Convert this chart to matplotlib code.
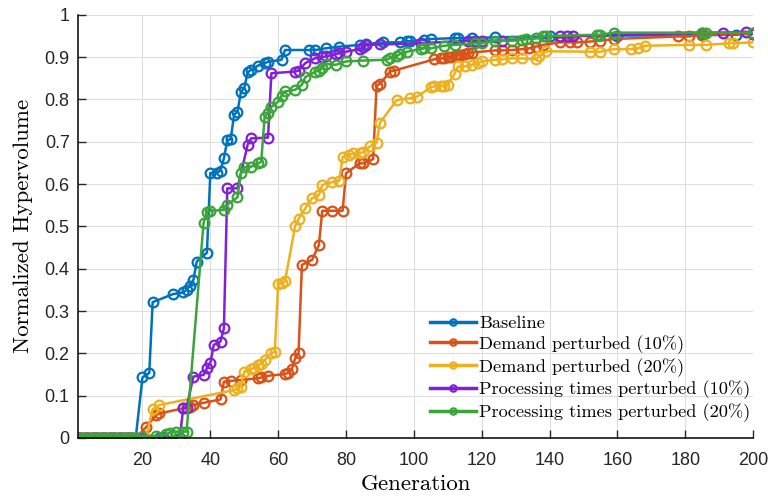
import matplotlib
matplotlib.use("Agg")
import matplotlib.pyplot as plt

# generation / normalized hypervolume
base_gen = [1, 2, 3, 4, 5, 6, 7, 8, 9, 10, 11, 12, 13, 14, 15, 16, 17, 18, 20, 22, 23, 29, 32, 33, 34, 35, 36, 39,
            40, 42, 43, 44, 45, 46, 47, 48, 49, 50, 51, 52, 54, 56, 57, 61, 62, 69, 71, 74, 78, 84, 86, 91, 96, 98,
            99, 103, 105, 112, 113, 117, 124, 140, 160, 185, 195, 200]
base_hv = [0, 0, 0, 0, 0, 0, 0, 0, 0, 0, 0, 0, 0, 0, 0, 0, 0, 0, 0.143, 0.154, 0.321, 0.34, 0.344, 0.35, 0.36, 0.373,
           0.417, 0.438, 0.626, 0.627, 0.632, 0.661, 0.704, 0.706, 0.764, 0.771, 0.817, 0.827, 0.864, 0.870, 0.880,
           0.886, 0.889, 0.894, 0.917, 0.917, 0.917, 0.921, 0.925, 0.929, 0.931, 0.935, 0.935, 0.938, 0.938, 0.941,
           0.943, 0.945, 0.945, 0.945, 0.947, 0.949, 0.951, 0.952, 0.953, 0.957]

dem10_gen = [1, 2, 3, 4, 5, 6, 7, 8, 9, 10, 11, 12, 13, 14, 15, 16, 17, 18, 21, 24, 25, 32, 34, 35, 38, 43, 44, 46,
             49, 54, 55, 57, 62, 63, 64, 65, 66, 67, 70, 72, 73, 76, 79, 80, 84, 85, 88, 89, 90, 93, 94, 106, 108,
             109, 110, 111, 112, 113, 114, 115, 116, 117, 124, 126, 129, 132, 134, 136, 138, 143, 146, 148, 152, 155,
             159, 178, 181, 185, 200]
dem10_hv = [0, 0, 0, 0, 0, 0, 0, 0, 0, 0, 0, 0, 0, 0, 0, 0, 0, 0, 0.025, 0.054, 0.058, 0.07, 0.074, 0.078, 0.083,
            0.091, 0.133, 0.135, 0.137, 0.141, 0.143, 0.147, 0.151, 0.154, 0.162, 0.188, 0.2, 0.409, 0.421, 0.456,
            0.537, 0.537, 0.537, 0.626, 0.649, 0.649, 0.659, 0.832, 0.837, 0.866, 0.868, 0.895, 0.897, 0.897, 0.9,
            0.901, 0.902, 0.904, 0.906, 0.908, 0.909, 0.911, 0.916, 0.916, 0.917, 0.919, 0.921, 0.925, 0.929, 0.935,
            0.935, 0.935, 0.937, 0.939, 0.943, 0.949, 0.949, 0.953, 0.955]

dem20_gen = [1, 2, 3, 4, 5, 6, 7, 8, 9, 10, 11, 12, 13, 14, 15, 16, 17, 18, 21, 23, 25, 47, 48, 49, 50, 52, 53, 54,
             55, 56, 58, 59, 60, 61, 62, 65, 66, 68, 70, 72, 73, 76, 78, 79, 81, 82, 84, 85, 87, 89, 90, 95, 99, 101,
             105, 106, 108, 109, 110, 112, 113, 115, 117, 119, 120, 124, 126, 129, 132, 136, 137, 139, 152, 155, 159,
             164, 166, 168, 181, 186, 193, 194, 200]
dem20_hv = [0, 0, 0, 0, 0, 0, 0, 0, 0, 0, 0, 0, 0, 0, 0, 0, 0, 0, 0, 0.068, 0.078, 0.113, 0.117, 0.121, 0.157, 0.162,
            0.166, 0.172, 0.176, 0.184, 0.2, 0.204, 0.364, 0.367, 0.37, 0.501, 0.518, 0.543, 0.567, 0.574, 0.598,
            0.605, 0.608, 0.664, 0.669, 0.673, 0.674, 0.675, 0.689, 0.698, 0.745, 0.799, 0.803, 0.807, 0.829, 0.831,
            0.832, 0.832, 0.835, 0.861, 0.878, 0.878, 0.882, 0.886, 0.89, 0.894, 0.895, 0.897, 0.897, 0.895, 0.902,
            0.914, 0.913, 0.913, 0.919, 0.919, 0.921, 0.927, 0.929, 0.929, 0.933, 0.933, 0.935]

proc10_gen = [1, 2, 3, 4, 5, 6, 7, 8, 9, 10, 11, 12, 13, 14, 15, 16, 17, 18, 20, 25, 26, 31, 32, 33, 35, 38, 39, 40,
              41, 43, 44, 45, 48, 51, 52, 57, 58, 65, 66, 68, 71, 73, 74, 77, 78, 80, 84, 85, 86, 90, 102, 116, 118,
              120, 126, 143, 145, 147, 185, 191, 198, 200]
proc10_hv = [0, 0, 0, 0, 0, 0, 0, 0, 0, 0, 0, 0, 0, 0, 0, 0, 0, 0, 0, 0, 0.002, 0, 0.07, 0.072, 0.145, 0.149, 0.165,
             0.177, 0.22, 0.228, 0.259, 0.59, 0.59, 0.693, 0.708, 0.71, 0.862, 0.866, 0.868, 0.886, 0.898, 0.9, 0.902,
             0.907, 0.909, 0.913, 0.919, 0.924, 0.929, 0.93, 0.933, 0.939, 0.939, 0.939, 0.939, 0.949, 0.949, 0.95,
             0.958, 0.958, 0.96, 0.955]

proc20_gen = [1, 2, 3, 4, 5, 6, 7, 8, 9, 10, 11, 12, 13, 14, 15, 16, 17, 18, 20, 24, 27, 28, 30, 32, 33, 38, 39, 40,
              44, 45, 48, 49, 50, 52, 54, 55, 56, 57, 58, 60, 61, 62, 65, 67, 68, 71, 72, 73, 74, 77, 80, 85, 92, 93,
              95, 96, 98, 102, 103, 105, 109, 112, 118, 120, 124, 129, 132, 133, 136, 138, 139, 154, 155, 159, 185,
              186, 200]
proc20_hv = [0, 0, 0, 0, 0, 0, 0, 0, 0, 0, 0, 0, 0, 0, 0, 0, 0, 0, 0.003, 0.005, 0.009, 0.012, 0.015, 0.015, 0.015,
             0.508, 0.535, 0.537, 0.539, 0.551, 0.569, 0.626, 0.64, 0.641, 0.649, 0.653, 0.758, 0.768, 0.783, 0.795,
             0.809, 0.819, 0.823, 0.835, 0.853, 0.866, 0.868, 0.874, 0.884, 0.882, 0.89, 0.892, 0.894, 0.898, 0.903,
             0.908, 0.913, 0.919, 0.921, 0.921, 0.927, 0.929, 0.933, 0.933, 0.939, 0.939, 0.941, 0.943, 0.945, 0.949,
             0.95, 0.953, 0.953, 0.958, 0.958, 0.958, 0.958]

labels = ["Baseline", "Demand perturbed (10%)", "Demand perturbed (20%)",
          "Processing times perturbed (10%)", "Processing times perturbed (20%)"]
colors = ["#0072BD", "#D95319", "#EDB120", "#8120D8", "#3AA63A"]

series = [(base_gen, base_hv), (dem10_gen, dem10_hv), (dem20_gen, dem20_hv),
          (proc10_gen, proc10_hv), (proc20_gen, proc20_hv)]

tick_font = ["Liberation Sans", "DejaVu Sans"]
label_font = "cmr10"

fig = plt.figure(figsize=(7.68, 4.96), dpi=100)
ax = fig.add_axes([0.1016, 0.117, 0.879, 0.853])

for (g, hv), lab, c in zip(series, labels, colors):
    ax.plot(g, hv, "-o", color=c, lw=1.8, markersize=7, markerfacecolor="none",
            markeredgewidth=1.6, label=lab)

ax.set_xlim(1, 200)
ax.set_ylim(0, 1)
ax.set_xticks(range(20, 201, 20))
ax.set_yticks([i / 10 for i in range(11)])
ax.set_yticklabels(["0", "0.1", "0.2", "0.3", "0.4", "0.5", "0.6", "0.7", "0.8", "0.9", "1"])
for t in ax.get_xticklabels() + ax.get_yticklabels():
    t.set_family(tick_font)
    t.set_fontsize(13)

ax.grid(True, color="#DEDEDE", lw=0.8)
ax.set_axisbelow(True)
for s in ["top", "right"]:
    ax.spines[s].set_visible(False)
ax.spines["left"].set_linewidth(1.1)
ax.spines["bottom"].set_linewidth(1.1)
ax.tick_params(direction="in", length=6, width=1, color="#262626", labelcolor="#262626")
ax.tick_params(axis="x", pad=10)
ax.tick_params(axis="y", pad=6)

ax.set_xlabel("Generation", family=label_font, fontsize=16.5, labelpad=4)
ax.set_ylabel("Normalized Hypervolume", family=label_font, fontsize=16.5, labelpad=8)

leg = ax.legend(loc="lower right", bbox_to_anchor=(1.010, 0.016), frameon=False,
                prop={"family": label_font, "size": 13.2}, handlelength=2.5,
                handletextpad=0.2, labelspacing=0.22, borderpad=0, markerscale=0.65)
for h in leg.get_lines():
    h.set_linewidth(2.5)

fig.savefig("out.png", dpi=100)
